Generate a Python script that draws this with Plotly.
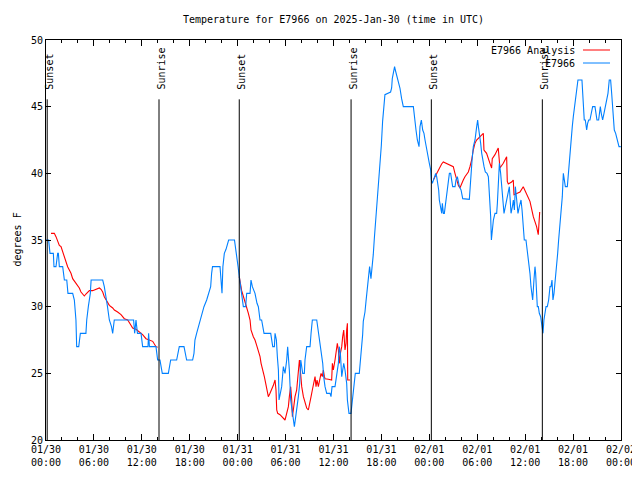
import pandas as pd
import plotly.graph_objects as go

BASE = pd.Timestamp("2025-01-30 00:00")

# Observations (hours since 2025-01-30 00:00 UTC, degrees F)
obs_hours = [0.0, 0.33, 0.5, 0.92, 1.0, 1.25, 1.46, 1.55, 1.67, 2.09, 2.3, 2.6, 2.75, 3.34, 3.55, 3.75, 3.84, 4.1, 4.2, 4.3,
             5.0, 5.1, 5.3, 5.55, 5.65, 7.1, 7.3, 7.45, 7.7, 7.93, 8.2, 8.35, 8.55, 10.97, 11.1, 11.27, 11.45, 11.9, 12.1, 12.77,
             12.85, 12.95, 13.77, 13.98, 14.27, 14.56, 15.32, 15.61, 16.36, 16.69, 17.28, 17.61, 18.36, 18.53, 18.65, 18.86, 19.07, 19.28, 19.57, 19.78,
             20.12, 20.4, 20.62, 20.74, 20.85, 21.79, 21.91, 22.04, 22.15, 22.33, 22.54, 22.7, 22.87, 23.6, 23.75, 23.87, 24.05, 24.2, 24.5, 24.71,
             25.0, 25.13, 25.55, 25.67, 25.84, 26.17, 26.42, 26.59, 26.8, 27.0, 27.3, 28.14, 28.39, 28.6, 28.68, 28.85, 28.97, 29.1, 29.18, 29.3,
             29.51, 29.72, 29.93, 30.14, 30.26, 30.35, 30.47, 30.64, 30.85, 31.1, 31.27, 31.39, 31.6, 31.77, 31.9, 32.02, 32.14, 32.35, 32.43, 32.64,
             33.06, 33.19, 33.35, 33.9, 34.02, 34.1, 34.31, 34.52, 34.65, 34.77, 34.94, 35.15, 35.56, 35.69, 35.82, 36.19, 36.32, 36.44, 36.61, 36.73,
             36.86, 37.03, 37.15, 37.28, 37.44, 37.65, 37.74, 37.94, 38.19, 38.28, 38.4, 38.56, 38.73, 39.23, 39.31, 39.44, 39.52, 39.65, 39.73, 39.94,
             40.07, 40.23, 40.36, 40.52, 40.69, 40.86, 40.98, 41.11, 41.28, 41.4, 41.61, 41.82, 41.99, 42.15, 42.28, 42.44, 43.15, 43.28, 43.36, 43.57,
             43.65, 43.74, 43.99, 44.32, 44.53, 44.74, 46.0, 46.08, 46.33, 46.5, 46.71, 46.83, 47.0, 47.17, 47.33, 47.46, 47.67, 47.84, 48.0, 48.17,
             48.25, 48.38, 48.5, 48.63, 48.8, 48.92, 49.05, 49.17, 49.25, 49.42, 49.55, 49.63, 49.76, 49.88, 50.05, 50.21, 50.38, 50.51, 50.67, 50.8,
             50.92, 51.22, 51.34, 51.51, 51.63, 51.76, 51.97, 52.18, 53.01, 53.1, 53.22, 53.35, 53.51, 53.72, 53.93, 54.05, 54.14, 54.26, 54.43, 54.56,
             54.68, 54.85, 55.01, 55.22, 55.39, 55.52, 55.68, 55.77, 55.89, 56.02, 56.22, 56.43, 56.52, 56.64, 56.77, 56.93, 57.06, 57.18, 57.35, 57.52,
             57.69, 57.85, 58.02, 58.1, 58.23, 58.4, 58.52, 58.65, 58.77, 58.94, 59.1, 59.27, 59.48, 59.61, 59.77, 59.89, 60.1, 60.27, 60.39, 60.6,
             60.73, 60.85, 60.94, 61.1, 61.23, 61.31, 61.44, 61.52, 61.65, 61.77, 61.94, 62.1, 62.23, 62.35, 62.48, 62.61, 62.77, 62.94, 63.11, 63.23,
             63.36, 63.48, 63.61, 63.77, 63.94, 64.07, 64.19, 64.36, 64.53, 64.65, 64.78, 64.9, 65.03, 65.28, 65.4, 65.53, 65.61, 65.74, 65.9, 66.03,
             66.2, 66.36, 66.53, 66.61, 67.11, 67.28, 67.4, 67.53, 67.7, 67.82, 67.95, 68.11, 68.24, 68.45, 68.74, 68.87, 68.99, 69.2, 69.28, 69.41,
             69.53, 69.7, 69.87, 70.03, 70.2, 70.37, 70.53, 70.7, 70.83, 71.04, 71.16, 71.33, 71.45, 71.58, 71.75, 71.97]
obs_temps = [35, 35, 34, 34, 33, 33, 34, 34, 33, 33, 32, 32, 31, 31, 30.5, 29, 27, 27, 27.5, 28,
             28, 29, 30, 31, 32, 32, 31.5, 31, 30, 29, 28.5, 28, 29, 29, 28, 29, 28, 28, 27, 27,
             28, 27, 27, 26, 26, 25, 25, 26, 26, 27, 27, 26, 26, 26.5, 27.5, 28, 28.5, 29, 29.5, 30,
             30.5, 31, 31.5, 32.5, 33, 33, 32, 31, 33, 34, 34.3, 34.7, 35, 35, 34.2, 33.5, 33, 32.25, 31, 30,
             30, 31, 31, 32, 31.5, 31, 30.25, 30, 29, 29, 28, 28, 27, 27, 28, 27.5, 26.25, 25.25, 23, 23.5,
             24, 25.5, 25, 26, 27, 26.25, 25.25, 23, 22, 21, 21.75, 22.25, 23.25, 24.25, 26, 25.5, 25, 25, 26, 27,
             27, 28, 29, 29, 28.5, 28, 27, 26.25, 25.75, 24.75, 24, 23.5, 23.5, 23.25, 24, 24, 24.5, 25.25, 25.75, 27,
             26.5, 24.75, 25.5, 25.75, 25.25, 24.25, 23, 22, 22, 22.5, 23.5, 24.25, 25, 25, 25.5, 26.4, 27.4, 27.9, 28.9, 29.6,
             30.4, 31.4, 32.4, 33, 32.1, 32.9, 33.9, 35.1, 36.4, 37.6, 38.9, 40.1, 42.1, 43.9, 45.1, 45.9, 46.1, 46.4, 47.1, 47.9,
             48, 47.75, 47.1, 46.4, 45.6, 45, 45, 44.5, 43.25, 42.5, 42, 43.5, 44, 43.25, 43, 42.5, 41.75, 41, 40.75, 40.25,
             39.5, 39.25, 39.5, 39.75, 40, 39.75, 39.25, 38.75, 38, 37.5, 37, 37.75, 37, 37, 37.75, 38.5, 39.25, 40, 40, 39.5,
             39, 39, 39.5, 39.75, 39.25, 39, 38.75, 38.1, 38.05, 39, 40.5, 41, 42, 42.5, 43.5, 44, 43.5, 42.75, 42.25, 41.5,
             41, 40.5, 40.1, 40, 39.75, 38.5, 36.75, 35, 36, 36.5, 37, 37, 37.75, 39.25, 40.75, 40, 39, 38.25, 37, 37.5,
             38, 38.5, 39, 38.25, 37, 37.5, 38, 37.25, 39, 38, 37, 37.5, 38, 37.25, 36, 35, 35, 34.25, 33.5, 32.5,
             31.5, 31, 30.5, 32, 33, 32.5, 31, 30, 30, 29.5, 29.25, 28.5, 28, 29, 29.5, 30, 30, 30.5, 31.5, 31.5,
             32, 30.5, 31, 32, 32.75, 34, 35, 36, 37, 38.25, 40, 39.5, 39, 39, 40, 40.5, 41.5, 42.5, 43.5, 44.25,
             45, 45.75, 46.5, 47, 47, 45.5, 44, 44, 43.25, 43.75, 44, 44, 44.5, 45, 45, 44.5, 44, 44, 44.5, 45,
             44.5, 44, 44.5, 45, 45.5, 46, 47, 47, 46, 44, 43.25, 43, 42.75, 42.5, 42, 42]

# Analysis (three segments separated by None)
anl_hours = [0.63, 1.04, 1.25, 1.46, 1.67, 1.88, 2.09, 2.3, 2.5, 2.71, 2.92, 3.13, 3.34, 3.55, 3.76, 3.96, 4.17, 4.38, 4.59, 4.8,
             5.0, 5.22, 5.43, 5.84, 6.26, 6.68, 6.89, 7.1, 7.3, 7.51, 7.72, 7.93, 8.35, 8.56, 8.97, 9.39, 9.81, 10.23, 10.64, 10.85,
             11.27, 11.69, 12.1, 12.52, 12.94, 13.36, 13.77, 13.98, None,
             24.2, 24.5, 24.85, 25.13, 25.34, 25.55, 25.67, 25.96, 26.17, 26.38, 26.59, 26.8, 26.93, 27.09, 27.34, 27.51, 27.63, 27.84, 28.05, 28.26,
             28.47, 28.68, 28.8, 28.89, 29.01, 29.3, 29.51, 29.72, 29.93, 30.14, 30.35, 30.47, 30.64, 30.77, 30.85, 30.97, 31.18, 31.39, 31.6, 31.73,
             31.81, 31.94, 32.02, 32.23, 32.43, 32.64, 32.85, 33.06, 33.19, 33.35, 33.52, 33.69, 33.81, 33.94, 34.1, 34.31, 34.44, 34.6, 34.73, 34.86,
             34.94, 35.36, 35.77, 35.86, 35.98, 36.19, 36.32, 36.48, 36.61, 36.73, 36.86, 37.03, 37.15, 37.28, 37.44, 37.57, 37.65, 37.74, 37.78, 38.07, None,
             48.5, 48.7, 48.91, 49.12, 49.33, 49.54, 49.75, 50.17, 50.58, 51.0, 51.21, 51.42, 51.63, 51.83, 52.04, 52.25, 52.46, 52.88, 53.09, 53.3,
             53.5, 53.71, 53.92, 54.34, 54.76, 54.84, 55.17, 55.59, 55.8, 55.88, 56.22, 56.63, 56.84, 57.26, 57.68, 57.76, 57.89, 58.3, 58.51, 58.6,
             59.35, 59.76, 60.18, 60.6, 61.02, 61.43, 61.64, 61.82]
anl_temps = [35.5, 35.5, 35.25, 34.9, 34.6, 34.5, 34.1, 33.75, 33.4, 33.0, 32.75, 32.5, 32.1, 31.9, 31.8, 31.6, 31.4, 31.1, 30.9, 30.8,
             30.95, 31.1, 31.2, 31.2, 31.3, 31.4, 31.3, 31.1, 30.75, 30.5, 30.25, 30.1, 29.9, 29.75, 29.6, 29.4, 29.1, 29.0, 28.6, 28.4,
             28.3, 28.1, 27.9, 27.6, 27.5, 27.4, 27.0, 26.95, None,
             32.25, 31.2, 30.5, 30.0, 29.5, 29.0, 28.25, 27.75, 27.5, 27.1, 26.75, 26.25, 25.75, 25.25, 24.75, 24.25, 23.75, 23.25, 23.5, 23.75,
             24.1, 24.5, 23.75, 22.25, 22.0, 21.9, 21.75, 21.6, 21.5, 22.0, 22.5, 23.25, 24.0, 23.0, 21.75, 22.25, 23.25, 23.75, 25.25, 26.0,
             25.5, 24.5, 24.0, 23.25, 22.75, 22.4, 22.25, 22.75, 23.25, 23.75, 24.25, 24.75, 24.0, 24.5, 24.0, 24.5, 25.0, 24.75, 25.25, 24.75,
             24.6, 24.55, 24.5, 25.75, 25.25, 26.0, 26.75, 27.25, 26.75, 25.75, 26.5, 27.0, 27.75, 28.25, 26.75, 27.25, 28.25, 28.75, 24.5, 24.5, None,
             39.5, 39.75, 40.0, 40.25, 40.5, 40.7, 40.85, 40.75, 40.6, 40.5, 40.0, 39.5, 39.1, 38.9, 39.25, 39.5, 39.75, 40.1, 40.5, 41.0,
             41.75, 42.25, 42.5, 42.75, 43.0, 41.75, 41.5, 40.75, 40.4, 41.1, 41.4, 41.9, 40.4, 40.75, 41.25, 39.4, 39.2, 39.35, 39.5, 38.4,
             38.6, 39.0, 38.5, 37.9, 36.75, 36.0, 35.4, 37.1]

event_names = ["Sunset", "Sunrise", "Sunset", "Sunrise", "Sunset", "Sunrise"]
event_hours = [0.15, 14.15, 24.2, 38.2, 48.25, 62.15]

tick_hours = [0, 6, 12, 18, 24, 30, 36, 42, 48, 54, 60, 66, 72]
tick_labels = ["01/30<br>00:00", "01/30<br>06:00", "01/30<br>12:00", "01/30<br>18:00",
               "01/31<br>00:00", "01/31<br>06:00", "01/31<br>12:00", "01/31<br>18:00",
               "02/01<br>00:00", "02/01<br>06:00", "02/01<br>12:00", "02/01<br>18:00",
               "02/02<br>00:00"]


def to_time(hours):
    return [None if h is None else BASE + pd.Timedelta(hours=h) for h in hours]


FONT = "DejaVu Sans Mono"
RED = "#ff0000"
BLUE = "#0080ff"

fig = go.Figure()
fig.add_trace(go.Scatter(x=to_time(anl_hours), y=anl_temps, mode="lines",
                         line=dict(color=RED, width=1.1), name="E7966 Analysis",
                         connectgaps=False))
fig.add_trace(go.Scatter(x=to_time(obs_hours), y=obs_temps, mode="lines",
                         line=dict(color=BLUE, width=1.1), name="E7966"))

# page pixel geometry (browser body has an 8px margin)
OFF = 8
PX_L, PX_R, PX_T, PX_B = 46, 621, 40, 440   # plot area in page pixels
W, H = 640 - OFF, 480 - OFF
L, T = PX_L - OFF, PX_T - OFF
R, B = W + OFF - PX_R, H + OFF - PX_B
pw, ph = PX_R - PX_L, PX_B - PX_T


def px_x(p):
    return (p - PX_L) / pw


def px_y(p):
    return (PX_B - p) / ph


shapes = []
annotations = []
for name, h in zip(event_names, event_hours):
    t = BASE + pd.Timedelta(hours=h)
    shapes.append(dict(type="line", xref="x", yref="y", x0=t, x1=t, y0=20, y1=45.55,
                       line=dict(color="black", width=1)))
    annotations.append(dict(x=t, y=px_y(92), xref="x", yref="paper", text=name,
                            textangle=-90, showarrow=False, xanchor="center",
                            yanchor="bottom", xshift=1.5,
                            font=dict(family=FONT, size=10, color="black")))

# manual gnuplot-style key
key_items = [("E7966 Analysis", RED, 50), ("E7966", BLUE, 63)]
for label, col, ypx in key_items:
    annotations.append(dict(x=px_x(577), y=px_y(ypx), xref="paper", yref="paper", text=label,
                            showarrow=False, xanchor="right", yanchor="middle",
                            font=dict(family=FONT, size=10, color="black")))
    shapes.append(dict(type="line", xref="paper", yref="paper", x0=px_x(583), x1=px_x(610),
                       y0=px_y(ypx), y1=px_y(ypx), line=dict(color=col, width=1)))

annotations.append(dict(x=px_x(OFF + 1), y=0.5, xref="paper", yref="paper", text="degrees F",
                        textangle=-90, showarrow=False, xanchor="left", yanchor="middle",
                        font=dict(family=FONT, size=10, color="black")))
annotations.append(dict(x=px_x(333), y=px_y(20), xref="paper", yref="paper",
                        text="Temperature for E7966 on 2025-Jan-30 (time in UTC)",
                        showarrow=False, xanchor="center", yanchor="middle",
                        font=dict(family=FONT, size=10, color="black")))

fig.update_layout(
    width=W, height=H,
    margin=dict(l=L, r=R, t=T, b=B, autoexpand=False),
    paper_bgcolor="white", plot_bgcolor="white",
    showlegend=False,
    font=dict(family=FONT, size=10, color="black"),
    shapes=shapes, annotations=annotations,
)
fig.update_xaxes(
    range=[BASE, BASE + pd.Timedelta(hours=72)],
    tickvals=to_time(tick_hours), ticktext=tick_labels,
    ticks="inside", ticklen=6, tickcolor="black", tickwidth=1,
    minor=dict(dtick=2 * 3600000, tick0=BASE, ticks="inside", ticklen=3, tickcolor="black"),
    showline=True, linecolor="black", linewidth=1, mirror="ticks",
    showgrid=False, zeroline=False, automargin=False,
    tickfont=dict(family=FONT, size=10, color="black"),
)
fig.update_yaxes(
    range=[20, 50], dtick=5, tick0=20,
    ticks="inside", ticklen=5, tickcolor="black", tickwidth=1,
    showline=True, linecolor="black", linewidth=1, mirror="ticks",
    showgrid=False, zeroline=False, automargin=False,
    tickfont=dict(family=FONT, size=10, color="black"),
)

fig.write_html("out.html")
